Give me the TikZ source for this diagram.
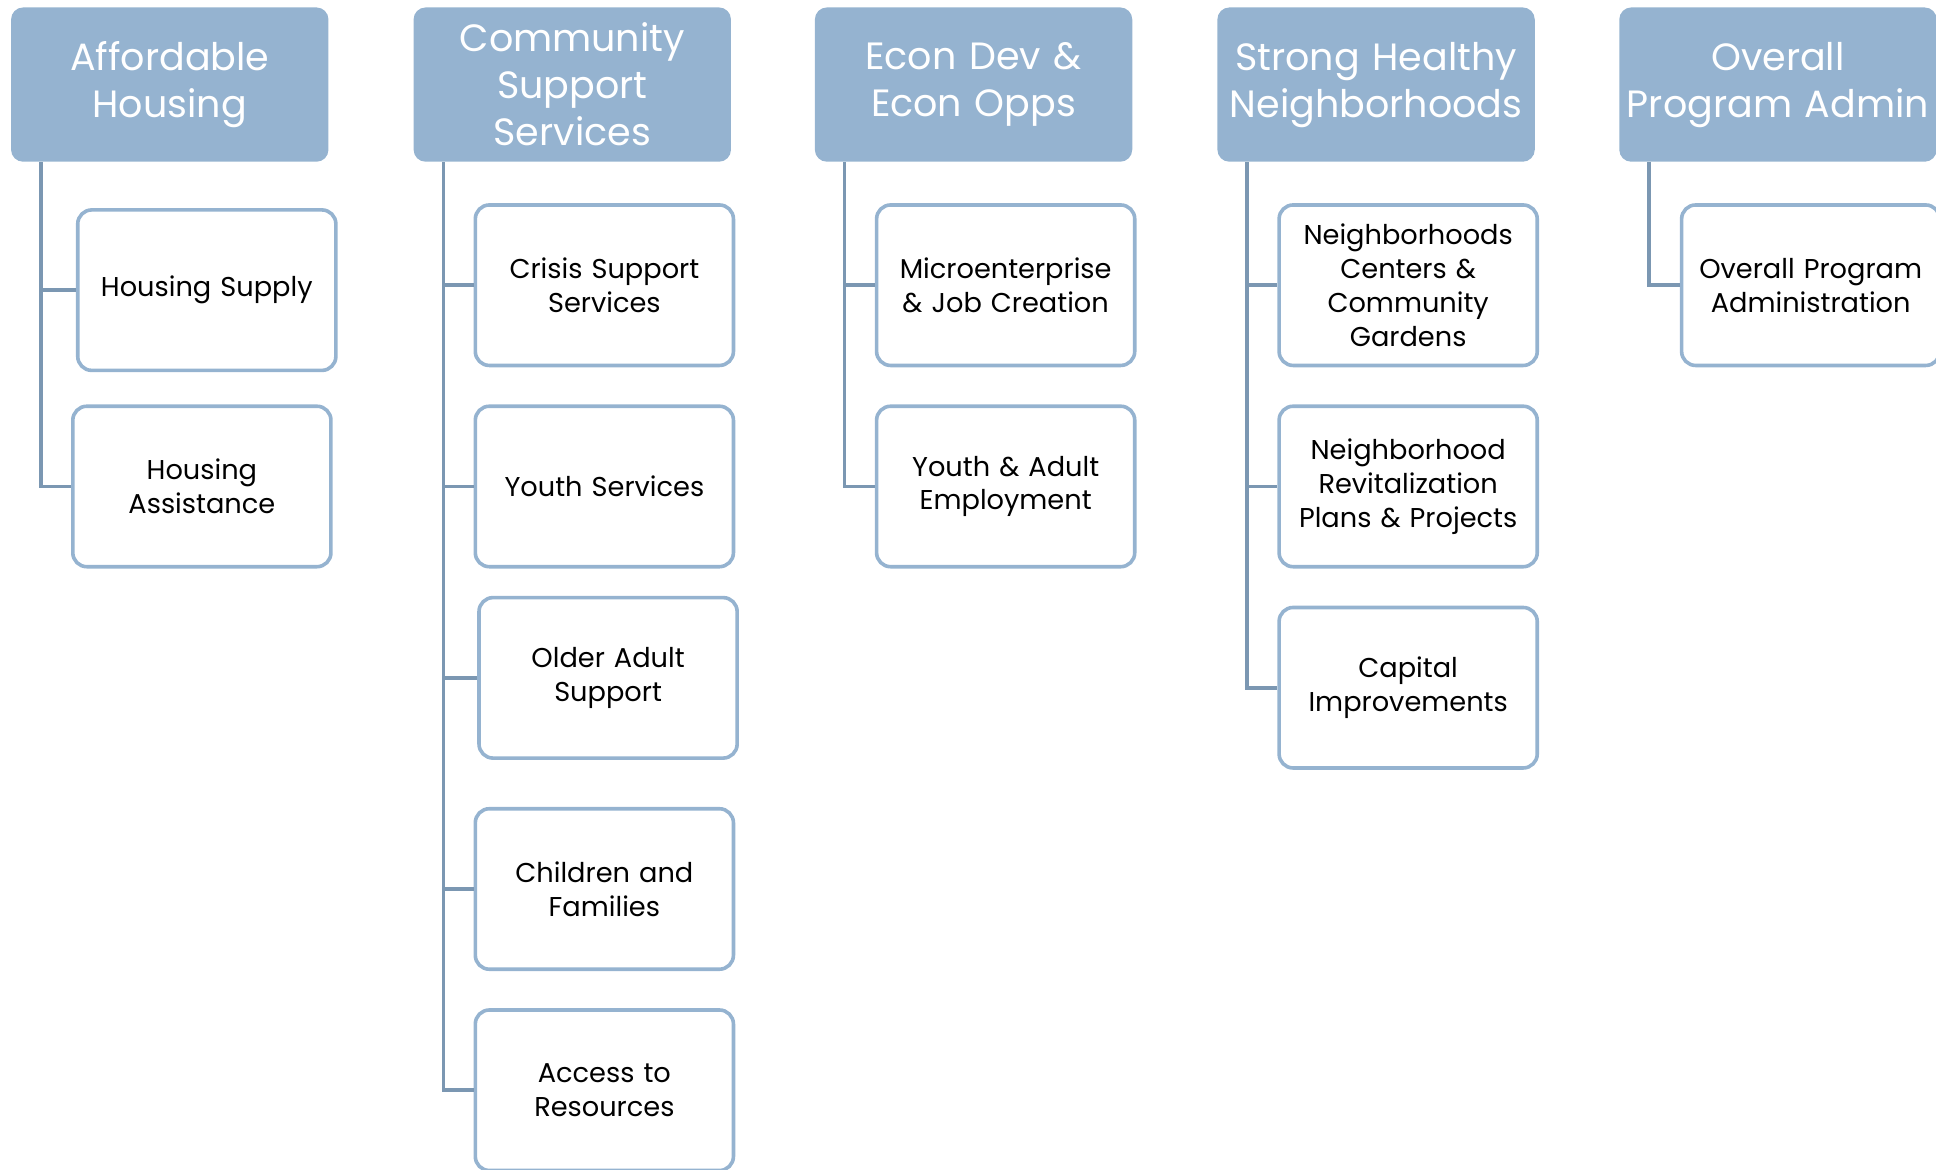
\documentclass[tikz,border=0pt]{standalone}
\usepackage{fontspec}
\setmainfont{Poppins}
\usepackage{tikz}
\definecolor{headblue}{HTML}{95B3D0}
\definecolor{linkblue}{HTML}{7B97B2}

\begin{document}
\begin{tikzpicture}[x=0.617pt,y=-0.617pt,
		head/.style={fill=headblue, rounded corners=6pt, minimum width=158.6pt, minimum height=77.1pt,
			text width=157pt, align=center, inner sep=0pt, text=white, font=\fontsize{19}{23.5}\selectfont},
		item/.style={draw=headblue, line width=1.8pt, fill=white, rounded corners=7pt, minimum width=129pt,
			minimum height=80.2pt, text width=126pt, align=center, inner sep=0pt, font=\fontsize{13.6}{16.9}\selectfont},
		link/.style={draw=linkblue, line width=1.8pt}]
		\useasboundingbox (0,0) rectangle (1568,947);
		% top row
		\node[head] (ah) at (137.5,68.5) {Affordable\\Housing};
		\node[head] (css) at (463.5,68.5) {Community\\Support\\Services};
		\node[head] (ed) at (788.5,68.5) {Econ Dev \&\\Econ Opps};
		\node[head] (shn) at (1114.5,68.5) {Strong Healthy\\Neighborhoods};
		\node[head] (opa) at (1440,68.5) {Overall\\Program Admin};
		% programs
		\node[item] (hs) at (167.5,235) {Housing Supply};
		\node[item] (ha) at (163.5,394) {Housing\\Assistance};
		\node[item] (crisis) at (489.5,231) {Crisis Support\\Services};
		\node[item] (youth) at (489.5,394) {Youth Services};
		\node[item] (older) at (492.5,549) {Older Adult\\Support};
		\node[item] (kids) at (489.5,720) {Children and\\Families};
		\node[item] (access) at (489.5,883) {Access to\\Resources};
		\node[item] (micro) at (814.5,231) {Microenterprise\\\& Job Creation};
		\node[item] (jobs) at (814.5,394) {Youth \& Adult\\Employment};
		\node[item] (centers) at (1140.5,231) {Neighborhoods\\Centers \&\\Community\\Gardens};
		\node[item] (revit) at (1140.5,394) {Neighborhood\\Revitalization\\Plans \& Projects};
		\node[item] (capital) at (1140.5,557) {Capital\\Improvements};
		\node[item] (admin) at (1466.5,231) {Overall Program\\Administration};
		% connectors
		\foreach \h/\c in {ah/hs, ah/ha, css/crisis, css/youth, css/older, css/kids, css/access,
			ed/micro, ed/jobs, shn/centers, shn/revit, shn/capital, opa/admin}
			\draw[link] ([xshift=15.1pt]\h.south west) |- (\c.west);
	\end{tikzpicture}
\end{document}
